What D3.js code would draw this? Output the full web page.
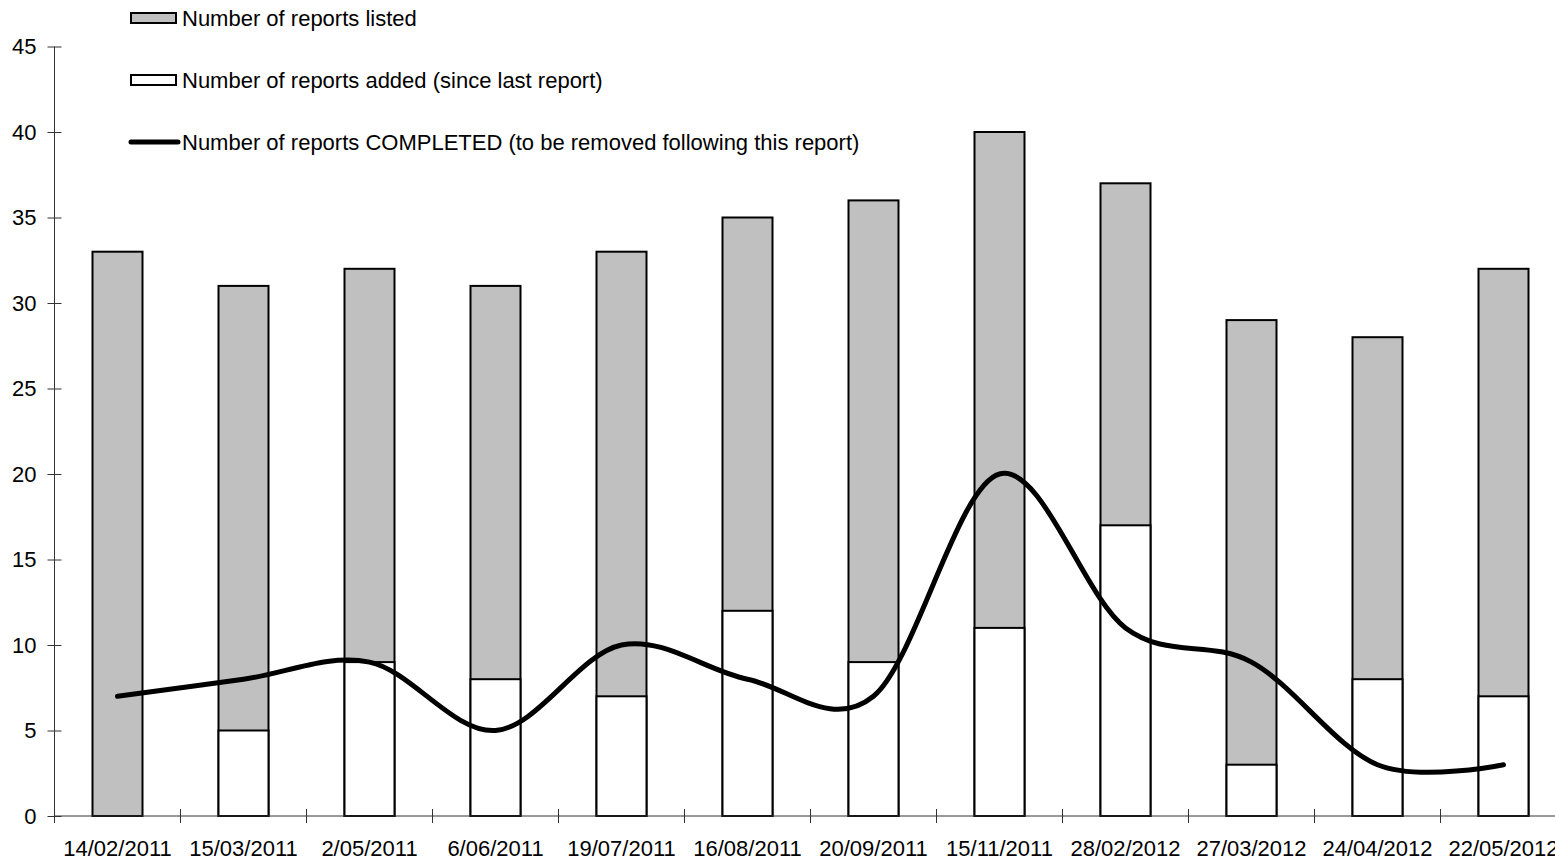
<!DOCTYPE html>
<html>
<head>
<meta charset="utf-8">
<script src="https://d3js.org/d3.v7.min.js"></script>
<style>
  body { margin: 0; background: #fff; overflow: hidden; }
  svg text { font-family: "Liberation Sans", Arial, sans-serif; font-size: 22px; fill: #000; }
</style>
</head>
<body>
<svg id="chart" width="1555" height="861"></svg>
<script>
// chart data
const dates = ["14/02/2011", "15/03/2011", "2/05/2011", "6/06/2011", "19/07/2011", "16/08/2011",
               "20/09/2011", "15/11/2011", "28/02/2012", "27/03/2012", "24/04/2012", "22/05/2012"];
const listed = [33, 31, 32, 31, 33, 35, 36, 40, 37, 29, 28, 32];
const added = [0, 5, 9, 8, 7, 12, 9, 11, 17, 3, 8, 7];
const completed = [7, 8, 9, 5, 10, 8, 7, 20, 11, 9, 3, 3];
const yTicks = [0, 5, 10, 15, 20, 25, 30, 35, 40, 45];
const legendLabels = ["Number of reports listed",
                      "Number of reports added (since last report)",
                      "Number of reports COMPLETED (to be removed following this report)"];

const svg = d3.select("#chart");
const plotLeft = 54.5, plotTop = 46.5, plotBottom = 816;
const bandW = 126;

const x = d3.scaleBand().domain(dates).range([plotLeft, plotLeft + bandW * dates.length]);
const y = d3.scaleLinear().domain([0, 45]).range([plotBottom, plotTop]);
const barW = 50;
const cx = d => x(d) + x.bandwidth() / 2;

// listed bars (grey)
svg.append("g").selectAll("rect").data(dates).join("rect")
  .attr("x", d => cx(d) - barW / 2)
  .attr("y", (d, i) => y(listed[i]))
  .attr("width", barW)
  .attr("height", (d, i) => y(0) - y(listed[i]))
  .attr("fill", "#c0c0c0")
  .attr("stroke", "#000")
  .attr("stroke-width", 2);

// added bars (white, overlaid at the bottom)
svg.append("g").selectAll("rect").data(dates.filter((d, i) => added[i] > 0)).join("rect")
  .attr("x", d => cx(d) - barW / 2)
  .attr("y", d => y(added[dates.indexOf(d)]))
  .attr("width", barW)
  .attr("height", d => y(0) - y(added[dates.indexOf(d)]))
  .attr("fill", "#fff")
  .attr("stroke", "#000")
  .attr("stroke-width", 2);

// y axis
const yAxis = svg.append("g").attr("transform", "translate(" + plotLeft + ",0)")
  .call(d3.axisLeft(y).tickValues(yTicks).tickSize(7).tickPadding(11));
yAxis.select(".domain").attr("d", "M0," + y(45) + "V" + y(0)).attr("stroke", "#333");
yAxis.selectAll(".tick line").attr("x1", -7).attr("x2", 7).attr("stroke", "#333");
yAxis.selectAll("text").style("font-size", "22px").style("font-family", "Liberation Sans, Arial, sans-serif");

// x axis
const xAxis = svg.append("g").attr("transform", "translate(0," + plotBottom + ")");
xAxis.append("line").attr("x1", plotLeft).attr("x2", plotLeft + bandW * dates.length)
  .attr("stroke", "#333");
xAxis.selectAll("line.tk").data(d3.range(dates.length + 1)).join("line")
  .attr("class", "tk")
  .attr("x1", i => plotLeft + i * bandW).attr("x2", i => plotLeft + i * bandW)
  .attr("y1", i => i === 0 ? 0 : -7).attr("y2", 7)
  .attr("stroke", "#333");
xAxis.selectAll("text").data(dates).join("text")
  .attr("x", d => cx(d))
  .attr("y", 40)
  .attr("text-anchor", "middle")
  .text(d => d);

// completed line (smoothed)
const line = d3.line()
  .x((d, i) => cx(dates[i]))
  .y(d => y(d))
  .curve(d3.curveCatmullRom.alpha(0));
svg.append("path").datum(completed)
  .attr("d", line)
  .attr("fill", "none")
  .attr("stroke", "#000")
  .attr("stroke-width", 5)
  .attr("stroke-linecap", "round");

// legend
const lg = svg.append("g");
lg.append("rect").attr("x", 131).attr("y", 13).attr("width", 45).attr("height", 10)
  .attr("fill", "#c0c0c0").attr("stroke", "#000").attr("stroke-width", 2);
lg.append("rect").attr("x", 131).attr("y", 75).attr("width", 45).attr("height", 10)
  .attr("fill", "#fff").attr("stroke", "#000").attr("stroke-width", 2);
lg.append("line").attr("x1", 131).attr("x2", 178).attr("y1", 142).attr("y2", 142)
  .attr("stroke", "#000").attr("stroke-width", 5).attr("stroke-linecap", "round");
lg.selectAll("text").data(legendLabels).join("text")
  .attr("x", 182)
  .attr("y", (d, i) => 26 + i * 62)
  .text(d => d);
</script>
</body>
</html>
